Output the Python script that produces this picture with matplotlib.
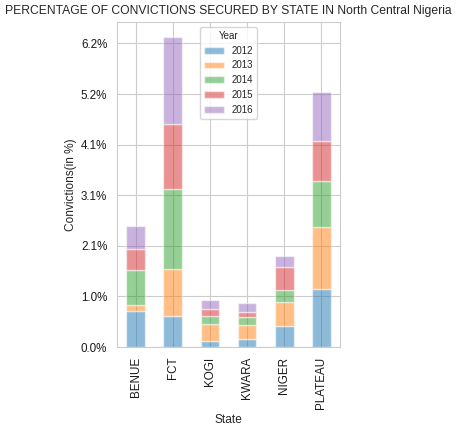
import numpy as np
import pandas as pd
import matplotlib
matplotlib.use("Agg")
import matplotlib.pyplot as plt
import seaborn as sns
from matplotlib.ticker import PercentFormatter, MultipleLocator

states = ["BENUE", "FCT", "KOGI", "KWARA", "NIGER", "PLATEAU"]
years = [2012, 2013, 2014, 2015, 2016]

# convictions per state and year
conv_2012 = [143, 124, 22, 33, 84, 228]
conv_2013 = [22, 185, 70, 53, 93, 246]
conv_2014 = [138, 316, 32, 31, 47, 181]
conv_2015 = [85, 255, 25, 23, 91, 160]
conv_2016 = [89, 344, 38, 33, 43, 195]
total_convictions = 19400

sns.set_style("whitegrid")
plt.rcParams['font.family'] = ['Liberation Sans', 'DejaVu Sans']

df = pd.DataFrame(dict(zip(years, [conv_2012, conv_2013, conv_2014,
                                   conv_2015, conv_2016])), index=states)
df.index.name = "State"
df.columns.name = "Year"

fig = plt.figure(figsize=(4.57, 4.30), dpi=100)
ax = fig.add_axes([0.256, 0.193, 0.488, 0.756])
df.plot.bar(stacked=True, ax=ax, alpha=0.5, edgecolor='white', width=0.5)

ax.yaxis.set_major_locator(MultipleLocator(200))
ax.yaxis.set_major_formatter(PercentFormatter(xmax=total_convictions, decimals=1))
ax.tick_params(axis='both', labelsize=8.4, labelcolor='0.1')
ax.set_xlabel("State", fontsize=8.6)
ax.set_ylabel("Convictions(in %)", fontsize=8.6, labelpad=3)
ax.set_title("PERCENTAGE OF CONVICTIONS SECURED BY STATE IN North Central Nigeria",
             fontsize=8.7)
leg = ax.legend(title="Year", loc='upper center', fontsize=7.0, title_fontsize=7.0)

fig.savefig("out.png", dpi=100)
